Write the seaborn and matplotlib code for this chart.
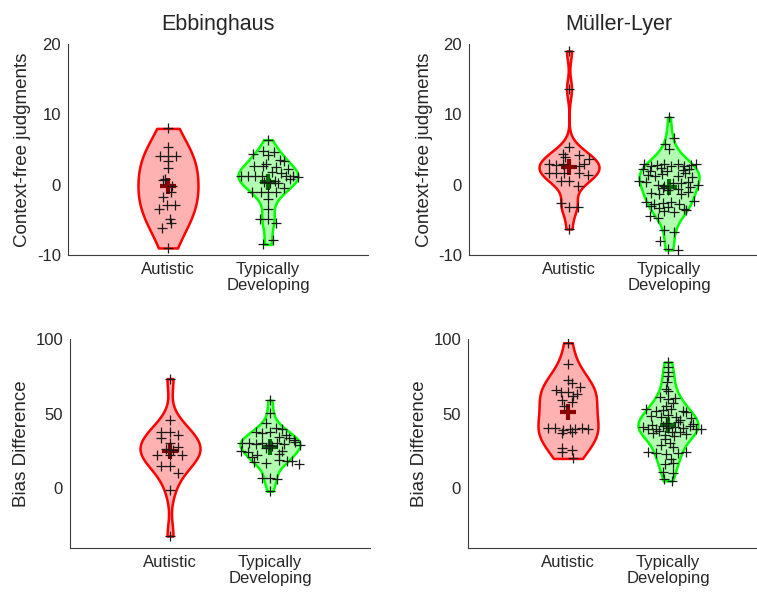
import numpy as np
import pandas as pd
import seaborn as sns
import matplotlib.pyplot as plt
from matplotlib.colors import to_rgba

groups = ["Autistic", "Typically\nDeveloping"]
illusions = ["Ebbinghaus", "Müller-Lyer"]
measures = ["Context-free judgments", "Bias Difference"]

# Ebbinghaus - context-free judgments
ebb_cf_aut = [8.0, 5.4, 4.1, 4.1, 4.1, 3.4, 2.3, 0.8, 0.6, -0.2, -1.0, -1.7,
              -2.9, -2.9, -3.4, -4.9, -5.5, -6.1, -9.0]
ebb_cf_aut_jit = [0, 0, -0.08, 0, 0.08, 0, 0, -0.03, -0.05, 0.04, 0.03, -0.05,
                  -0.01, 0.07, -0.09, 0.02, 0.03, -0.06, 0]
ebb_cf_td = [6.4, 4.8, 4.7, 4.3, 4.2, 3.5, 3.3, 3.0, 2.7, 2.6, 2.5, 2.2, 1.8, 1.6,
             1.2, 1.2, 1.2, 1.2, 1.2, 1.1, 1.3, 0.8, 0.4, 0.3, 0.3, 0.5, -0.5,
             -1.0, -1.0, -1.0, -1.1, -2.1, -3.4, -4.9, -4.9, -5.5, -7.8, -8.5]
ebb_cf_td_jit = [0, -0.05, 0.06, -0.15, 0, 0.12, 0.16, -0.02, -0.14, -0.05, 0.08, 0.2,
                 0.04, 0.13, -0.27, -0.2, -0.13, -0.06, 0.25, 0.3, 0.18, 0.22, -0.04,
                 0.02, 0.1, 0.07, 0.16, -0.16, -0.07, 0, 0.08, 0, 0, -0.08, 0, 0.08,
                 0.05, -0.05]

# Müller-Lyer - context-free judgments
ml_cf_aut = [19.0, 13.6, 5.3, 4.4, 4.2, 4.0, 3.6, 2.9, 2.8, 2.9, 2.7, 2.9, 1.7, 1.6,
             1.7, 1.6, 1.4, 0.5, 0.5, -0.2, -2.6, -3.2, -3.2, -6.3]
ml_cf_aut_jit = [0, 0, 0, -0.06, 0.1, -0.04, 0.2, -0.2, -0.13, -0.06, 0.1, 0.15, -0.2,
                 -0.13, -0.05, 0.1, 0.19, -0.08, 0, 0.09, -0.08, 0, 0.09, 0]
ml_cf_td = [9.6, 6.7, 5.8, 5.1,
            2.9, 2.6, 2.8, 3.0, 2.7, 2.9, 2.6, 2.8, 3.0,
            2.2, 2.0, 2.3, 1.9, 2.1, 2.2,
            1.4, 1.2, 1.5, 1.3, 1.6, 1.1,
            0.5, 0.4, 0.0, -0.2, 0.3, 0.2, 0.4, 0.0,
            -0.5, -0.7, -0.6, -0.4,
            -1.2, -1.4, -1.3, -1.0,
            -2.4, -2.7, -2.6, -2.5, -2.8, -2.3,
            -3.1, -3.3, -3.2, -3.4,
            -3.7, -3.9, -3.6,
            -4.5, -4.7, -6.5, -6.8, -8.0, -9.2, -9.3]
ml_cf_td_jit = [0, 0.05, -0.04, 0,
                -0.25, -0.18, -0.12, -0.05, 0.02, 0.09, 0.15, 0.22, 0.27,
                -0.26, -0.19, -0.08, -0.02, 0.14, 0.2,
                -0.21, -0.14, -0.07, 0.09, 0.16, 0.23,
                -0.3, -0.23, -0.11, -0.05, 0.04, 0.12, 0.19, 0.29,
                -0.06, -0.01, 0.09, 0.21,
                -0.18, -0.1, 0.12, 0.19,
                -0.23, -0.15, -0.06, 0.02, 0.1, 0.25,
                -0.18, -0.1, -0.01, 0.15,
                -0.05, 0.05, 0.17,
                -0.19, -0.11, -0.05, 0.05, -0.09, -0.01, 0.09]

# Ebbinghaus - bias difference
ebb_bd_aut = [73.5, 45.5, 37.5, 37.5, 36.0, 33.5, 30.0, 27.5, 26.0, 25.5, 22.5, 22.0,
              22.0, 15.0, 15.0, 10.5, -1.0, -32.0]
ebb_bd_aut_jit = [0, 0, -0.09, 0, 0.08, -0.09, 0, 0.08, -0.04, 0.03, -0.13, 0, 0.12,
                  -0.09, 0, 0.08, 0, 0]
ebb_bd_td = [59, 50.5, 44, 40.5, 39.5,
             37.5, 37, 37.5, 36, 34.5, 33.5, 32,
             30, 30.5, 29.5, 30, 29, 30.5, 29.5, 31, 29,
             25, 24, 22.5, 27, 28, 25, 23, 21,
             17.5, 17, 19, 18.5, 18, 16.5,
             7, 7, 6, -2]
ebb_bd_td_jit = [0, 0, -0.04, 0.06, 0.12,
                 -0.14, -0.08, 0, 0.16, 0.09, 0.19, 0.24,
                 -0.28, -0.21, -0.14, -0.08, -0.01, 0.07, 0.14, 0.25, 0.3,
                 -0.29, -0.22, -0.13, -0.04, 0.02, 0.12, 0.09, -0.18,
                 -0.16, -0.04, 0.09, 0.17, 0.22, 0.29,
                 -0.08, 0, 0.07, 0]

# Müller-Lyer - bias difference
ml_bd_aut = [97.5, 83.5, 72.5, 70.5, 67.5, 65.5, 64.5, 64.5, 63, 61.5, 59, 58, 55,
             40.5, 40.5, 39, 40, 39.5, 40.5, 40, 37, 38, 27, 24.5, 25.5, 20]
ml_bd_aut_jit = [0, 0, 0, 0.04, 0.12, -0.12, -0.07, 0, 0.09, 0.05, -0.06, 0.04, -0.04,
                 -0.2, -0.13, -0.05, 0.02, 0.07, 0.14, 0.2, -0.06, 0.04, -0.06, -0.06,
                 0.04, 0.05]
ml_bd_td = [84.5, 81, 78, 75.5, 71.5, 66.5, 65,
            61, 60.5, 59.5, 57, 55,
            53, 52, 52.5, 53, 52, 51,
            48.5, 48, 49, 47.5, 47, 45.5, 44, 44.5,
            41, 40, 40, 41.5, 40.5, 41, 40.5, 42, 40, 39.5, 43, 42.5,
            37, 36, 37.5, 38, 36.5, 38.5, 35,
            33, 30.5, 29, 27.5,
            24, 23.5, 23, 23.5, 24,
            19.5, 16, 17, 11, 10.5, 6, 5]
ml_bd_td_jit = [0, 0, 0, 0, -0.01, -0.02, 0,
                -0.08, 0.07, 0, 0.05, -0.02,
                -0.22, -0.12, -0.05, 0.03, 0.15, 0.18,
                -0.17, -0.07, 0, 0.08, 0.23, 0.12, -0.02, 0.1,
                -0.25, -0.2, -0.12, -0.05, 0, 0.07, 0.15, 0.22, 0.28, 0.33, 0.25, -0.16,
                -0.15, -0.03, 0.04, 0.12, 0.18, -0.09, 0.06,
                -0.03, 0.02, -0.07, 0.05,
                -0.2, -0.12, -0.02, 0.1, 0.18,
                0.03, -0.03, 0.05, -0.05, 0.05, -0.04, 0.04]

fill_colors = ["#ff0000", "#00ff00"]
mean_colors = ["#8b0000", "#006e00"]
text_col = "#262626"

sns.set_theme(style="white")
plt.rcParams["font.family"] = ["Liberation Sans", "DejaVu Sans"]
plt.rcParams["axes.unicode_minus"] = False

fig = plt.figure(figsize=(7.57, 5.97), dpi=100)
# axes boxes in figure fraction
boxes = [[0.0898, 0.5729, 0.3963, 0.3534], [0.6196, 0.5729, 0.3963, 0.3534],
         [0.0925, 0.0821, 0.3963, 0.3501], [0.6182, 0.0821, 0.3963, 0.3501]]

panels = [
    (ebb_cf_aut, ebb_cf_aut_jit, ebb_cf_td, ebb_cf_td_jit),
    (ml_cf_aut, ml_cf_aut_jit, ml_cf_td, ml_cf_td_jit),
    (ebb_bd_aut, ebb_bd_aut_jit, ebb_bd_td, ebb_bd_td_jit),
    (ml_bd_aut, ml_bd_aut_jit, ml_bd_td, ml_bd_td_jit),
]

for k, (box, panel) in enumerate(zip(boxes, panels)):
    ax = fig.add_axes(box)
    sets = [(panel[0], panel[1]), (panel[2], panel[3])]
    for i, (vals, jit) in enumerate(sets):
        v = np.asarray(vals, dtype=float)
        # matlab ksdensity style bandwidth (robust sigma)
        sig = np.median(np.abs(v - np.median(v))) / 0.6745
        bw = sig * (4 / (3 * len(v))) ** 0.2
        n0 = len(ax.collections)
        sns.violinplot(x=[groups[i]] * len(v), y=v, order=groups, cut=0,
                       density_norm="width", width=0.6, inner=None,
                       bw_method=bw / v.std(ddof=1), color=fill_colors[i],
                       linewidth=1.8, ax=ax)
        poly = ax.collections[n0]
        poly.set_facecolor(to_rgba(fill_colors[i], 0.3))
        poly.set_edgecolor(fill_colors[i])
        poly.set_linewidth(1.8)

        ax.plot(i, v.mean(), marker="+", ms=11, mew=3, color=mean_colors[i], zorder=3)
        sns.scatterplot(x=i + np.asarray(jit), y=v, marker="+", color="k", s=45,
                        linewidth=0.9, ax=ax, zorder=4)

    ax.set_xlim(-1, 2)
    if k < 2:
        ax.set_ylim(-10, 20)
        ax.set_yticks([-10, 0, 10, 20])
        ax.set_title(illusions[k], fontsize=15.5, color=text_col, pad=10)
    else:
        ax.set_ylim(-40, 100)
        ax.set_yticks([0, 50, 100])
    ax.set_xticks([0, 1])
    ax.set_xticklabels(groups, linespacing=1.05)
    ax.set_ylabel(measures[k // 2], fontsize=13.5, color=text_col, labelpad=4)
    ax.set_xlabel("")
    sns.despine(ax=ax)
    for s in ["left", "bottom"]:
        ax.spines[s].set_color("#3c3c3c")
        ax.spines[s].set_linewidth(0.8)
    ax.tick_params(direction="in", length=3, width=0.6, colors="#3c3c3c",
                   labelcolor=text_col, labelsize=12, pad=5)

fig.savefig("out.png", dpi=100, facecolor="white")
